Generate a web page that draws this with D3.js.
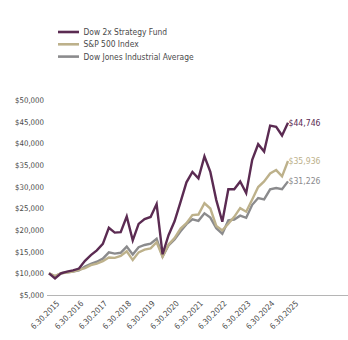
<!DOCTYPE html>
<html>
<head>
<meta charset="utf-8">
<script src="https://cdn.jsdelivr.net/npm/d3@7"></script>
<style>
  html, body { margin: 0; padding: 0; background: #fff; }
  svg text { font-family: "Liberation Sans Narrow", "DejaVu Sans Condensed", "Open Sans", sans-serif; }
</style>
</head>
<body>
<div id="chart"></div>
<script>
'use strict';

// quarter ends, 6.30.2015 .. 6.30.2025
var quarters = d3.range(41).map(function(i) {
	return new Date(2015, 5 + 3 * i + 1, 0);
});

var fund = [10000, 8800, 10000, 10400, 10700, 11100, 12900, 14200, 15300, 16800,
	20500, 19400, 19500, 23100, 17600, 21400, 22500, 23000, 26000, 14400,
	18800, 22000, 26500, 31000, 33400, 31900, 37000, 33400, 26900, 21900,
	29400, 29400, 31200, 28500, 36200, 39800, 38100, 44100, 43800, 41800, 44746];

var spx = [10000, 9360, 10020, 10150, 10400, 10800, 11210, 11890, 12260, 12810,
	13660, 13560, 14020, 15100, 13060, 14840, 15480, 15740, 17170, 13810,
	16640, 18130, 20330, 21590, 23430, 23570, 26170, 24960, 20940, 19920,
	21430, 23030, 25050, 24230, 27060, 29920, 31200, 33040, 33830, 32390, 35936];

var djia = [10000, 9300, 10020, 10240, 10380, 10670, 11590, 12190, 12680, 13380,
	14850, 14560, 14740, 16160, 14330, 16030, 16540, 16850, 17970, 13890,
	16460, 17810, 19720, 21350, 22440, 22110, 23850, 22870, 20410, 19150,
	22210, 22420, 23310, 22820, 25810, 27390, 27050, 29400, 29680, 29420, 31226];

var yTicks = [5000, 10000, 15000, 20000, 25000, 30000, 35000, 40000, 45000, 50000];
var xTicks = d3.range(2015, 2026).map(function(y) { return new Date(y, 5, 30); });

var series = [
	{name: "Dow 2x Strategy Fund", values: fund, color: "#5b2b52"},
	{name: "S&P 500 Index", values: spx, color: "#bdb18b"},
	{name: "Dow Jones Industrial Average", values: djia, color: "#8b8b8d"}
];

var W = 348, H = 340;
var svg = d3.select("#chart").append("svg").attr("width", W).attr("height", H);

var x = d3.scaleTime().domain([quarters[0], quarters[40]]).range([49, 288]);
var y = d3.scaleLinear().domain([5000, 50000]).range([295, 100]);

var money = d3.format("$,");

// y axis labels
var ya = svg.append("g").attr("transform", "translate(45,0)")
	.call(d3.axisLeft(y).tickValues(yTicks).tickSize(0).tickPadding(1).tickFormat(money));
ya.select(".domain").remove();
ya.selectAll("text").attr("font-size", 7.8).attr("fill", "#4a4a4a")
	.style("font-family", "'Liberation Sans Narrow', 'DejaVu Sans Condensed', sans-serif");

// x axis baseline
svg.append("line").attr("x1", 47).attr("x2", W).attr("y1", 295.5).attr("y2", 295.5)
	.attr("stroke", "#b5b5b5").attr("stroke-width", 1);

var fmtDate = function(d) { return (d.getMonth() + 1) + "." + d.getDate() + "." + d.getFullYear(); };
svg.append("g").selectAll("text").data(xTicks).join("text")
	.attr("transform", function(d) { return "translate(" + (x(d) + 7) + ",300) rotate(-45)"; })
	.attr("text-anchor", "end").attr("dy", "0.7em")
	.attr("font-size", 8).attr("fill", "#4a4a4a")
	.text(fmtDate);

var line = d3.line()
	.x(function(d, i) { return x(quarters[i]); })
	.y(function(d) { return y(d); });

// draw back to front so fund sits on top
series.slice().reverse().forEach(function(s) {
	svg.append("path").datum(s.values)
		.attr("d", line)
		.attr("fill", "none")
		.attr("stroke", s.color)
		.attr("stroke-width", 2.4)
		.attr("stroke-linejoin", "miter");
	svg.append("text")
		.attr("x", x(quarters[40]) + 0.5)
		.attr("y", y(s.values[40]))
		.attr("dy", "0.35em")
		.attr("font-size", 8.6)
		.attr("fill", s.color)
		.text(money(s.values[40]));
});

// legend
var lg = svg.append("g").selectAll("g").data(series).join("g")
	.attr("transform", function(d, i) { return "translate(58," + (32 + i * 12.3) + ")"; });
lg.append("line").attr("x1", 0).attr("x2", 21).attr("y1", 0).attr("y2", 0)
	.attr("stroke", function(d) { return d.color; }).attr("stroke-width", 2.6);
lg.append("text").attr("x", 25.5).attr("dy", "0.35em")
	.attr("font-size", 8.4).attr("fill", "#4a4a4a")
	.text(function(d) { return d.name; });
</script>
</body>
</html>
